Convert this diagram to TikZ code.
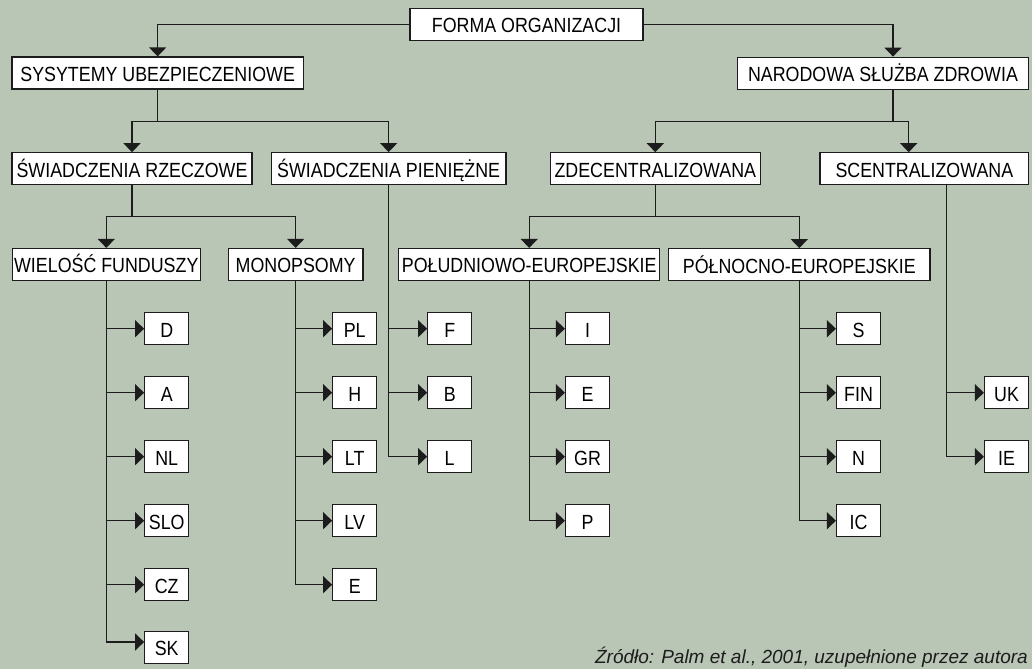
\documentclass[tikz,border=0pt]{standalone}
\usepackage{fontspec}
\setmainfont{Liberation Sans}[FakeStretch=0.87]
\newfontfamily\notefont{Liberation Sans}
\usetikzlibrary{arrows.meta}
\definecolor{sage}{RGB}{185,197,181}
\definecolor{ink}{RGB}{28,28,28}
\begin{document}
\begin{tikzpicture}[x=1pt,y=-1pt,
  box/.style={draw=ink, line width=1.2pt, fill=white, inner sep=0pt,
    minimum height=32pt, text height=16.8pt, text depth=0pt,
    font=\fontsize{20.5}{21}\selectfont, text=black},
  leaf/.style={box, minimum width=44pt},
  link/.style={draw=ink, line width=1.3pt},
  arr/.style={link, -{Triangle[length=9pt,width=17pt]}},
]
\fill[sage] (0,0) rectangle (1032,669);
\useasboundingbox (0,0) rectangle (1032,669);

% level 0 and 1
\node[box, minimum width=233pt]   (forma)  at (526.5,24.5) {FORMA ORGANIZACJI};
\node[box, minimum width=291.3pt] (sys)    at (157.65,73) {SYSYTEMY UBEZPIECZENIOWE};
\node[box, minimum width=291.4pt] (narod)  at (883,73.2) {NARODOWA SŁUŻBA ZDROWIA};

% level 2
\node[box, minimum width=240pt]   (swrz)   at (132,168.8) {ŚWIADCZENIA RZECZOWE};
\node[box, minimum width=234.7pt] (swpien) at (388.65,168.7) {ŚWIADCZENIA PIENIĘŻNE};
\node[box, minimum width=210pt]   (zdec)   at (655.3,168.8) {ZDECENTRALIZOWANA};
\node[box, minimum width=208.7pt] (scen)   at (924.35,168.8) {SCENTRALIZOWANA};

% level 3
\node[box, minimum width=188pt]   (wiel)   at (106.3,264.5) {WIELOŚĆ FUNDUSZY};
\node[box, minimum width=134.7pt] (mono)   at (295.65,264.5) {MONOPSOMY};
\node[box, minimum width=261pt]   (pol)    at (529.2,264.5) {POŁUDNIOWO-EUROPEJSKIE};
\node[box, minimum width=261.4pt] (poln)   at (799.3,264.7) {PÓŁNOCNO-EUROPEJSKIE};

% country leaves
\foreach \t [count=\i] in {D,A,NL,SLO,CZ}
  \node[leaf] (w\i) at (166.7,264.7+64*\i) {\t};
\node[leaf] (w6) at (166.7,647.5) {SK};
\foreach \t [count=\i] in {PL,H,LT,LV,E}
  \node[leaf] (m\i) at (354.7,264.7+64*\i) {\t};
\foreach \t [count=\i] in {F,B,L}
  \node[leaf] (p\i) at (449.7,264.7+64*\i) {\t};
\foreach \t [count=\i] in {I,E,GR,P}
  \node[leaf] (s\i) at (587.5,264.7+64*\i) {\t};
\foreach \t [count=\i] in {S,FIN,N,IC}
  \node[leaf] (n\i) at (858.5,264.7+64*\i) {\t};
\node[leaf] (c1) at (1006.5,392.7) {UK};
\node[leaf] (c2) at (1006.5,456.7) {IE};

% top split
\draw[arr] (forma.west) -| (sys.north);
\draw[arr] (forma.east) -| ([xshift=10pt]narod.north);

% second split
\draw[link] (sys.south) -- ++(0,32) coordinate (j1);
\draw[arr] (j1) -| (swrz.north);
\draw[arr] (j1) -| (swpien.north);
\draw[link] ([xshift=10pt]narod.south) -- ++(0,32) coordinate (j2);
\draw[arr] (j2) -| (zdec.north);
\draw[arr] (j2) -| ([xshift=-15.65pt]scen.north);

% third split
\draw[link] (swrz.south) -- ++(0,31) coordinate (j3);
\draw[arr] (j3) -| (wiel.north);
\draw[arr] (j3) -| (mono.north);
\draw[link] (zdec.south) -- ++(0,31) coordinate (j4);
\draw[arr] (j4) -| (pol.north);
\draw[arr] (j4) -| (poln.north);

% trunks down to the countries, each drawn once
\coordinate (tw) at ([yshift=5.5pt]w6.west);
\draw[link] (wiel.south) -- (wiel.south |- tw);
\draw[link] (mono.south) -- (mono.south |- m5.west);
\draw[link] (swpien.south) -- (swpien.south |- p3.west);
\draw[link] (pol.south) -- (pol.south |- s4.west);
\draw[link] (poln.south) -- (poln.south |- n4.west);
\coordinate (tc) at ([xshift=22.35pt]scen.south);
\draw[link] (tc) -- (tc |- c2.west);

% branches to the countries
\foreach \i in {1,...,5} \draw[arr] (wiel.south |- w\i.west) -- (w\i.west);
\draw[arr] (wiel.south |- tw) -- (tw);
\foreach \i in {1,...,5} \draw[arr] (mono.south |- m\i.west) -- (m\i.west);
\foreach \i in {1,2,3} \draw[arr] (swpien.south |- p\i.west) -- (p\i.west);
\foreach \i in {1,...,4} \draw[arr] (pol.south |- s\i.west) -- (s\i.west);
\foreach \i in {1,...,4} \draw[arr] (poln.south |- n\i.west) -- (n\i.west);
\foreach \i in {1,2} \draw[arr] (tc |- c\i.west) -- (c\i.west);

% source note
\node[anchor=base east, inner sep=0pt, text=ink,
  font=\notefont\fontsize{19}{20}\selectfont\itshape] (src) at (1028,663.3)
  {Źródło: Palm et al., 2001, uzupełnione przez autora};
\end{tikzpicture}
\end{document}
